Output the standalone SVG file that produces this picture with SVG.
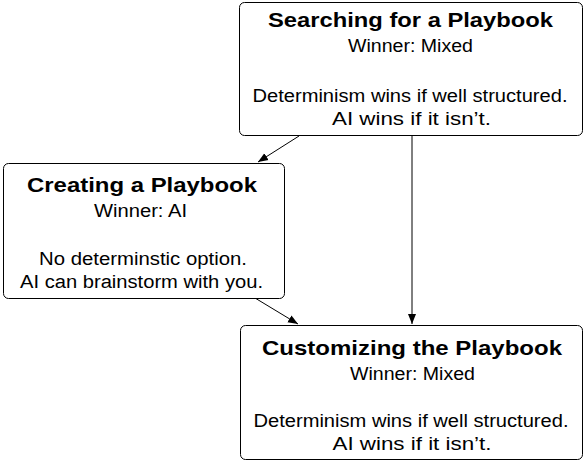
<svg xmlns="http://www.w3.org/2000/svg" width="585" height="462" viewBox="0 0 585 462">
<defs>
<marker id="ah" viewBox="0 0 10 10" refX="10" refY="5" markerWidth="10" markerHeight="10" markerUnits="userSpaceOnUse" orient="auto"><path d="M0,1 L10,5 L0,9 z" fill="#000"/></marker>
<style>
.box{fill:#fff;stroke:#000;stroke-width:1}
.t{font-family:"Liberation Sans",Arial,sans-serif;font-size:21px;font-weight:bold;text-anchor:middle;fill:#000}
.s{font-family:"Liberation Sans",Arial,sans-serif;font-size:18px;text-anchor:middle;fill:#000}
.c{stroke:#000;stroke-width:1;fill:none;marker-end:url(#ah)}
</style>
</defs>
<rect width="585" height="462" fill="#fff"/>
<g id="connectors">
<line class="c" x1="299" y1="136" x2="258" y2="162"/>
<line class="c" x1="412" y1="136" x2="412" y2="324"/>
<line class="c" x1="255" y1="298" x2="298" y2="324"/>
</g>
<g id="searching">
<rect class="box" x="239.5" y="2.5" width="343" height="133" rx="5"/>
<text class="t" x="410.5" y="27" textLength="285" lengthAdjust="spacingAndGlyphs">Searching for a Playbook</text>
<text class="s" x="410.5" y="52" textLength="125" lengthAdjust="spacingAndGlyphs">Winner: Mixed</text>
<text class="s" x="410" y="102" textLength="315" lengthAdjust="spacingAndGlyphs">Determinism wins if well structured.</text>
<text class="s" x="411.5" y="125" textLength="159" lengthAdjust="spacingAndGlyphs">AI wins if it isn’t.</text>
</g>
<g id="creating">
<rect class="box" x="3.5" y="163.5" width="281" height="135" rx="5"/>
<text class="t" x="142" y="192" textLength="230" lengthAdjust="spacingAndGlyphs">Creating a Playbook</text>
<text class="s" x="140.5" y="217" textLength="93" lengthAdjust="spacingAndGlyphs">Winner: AI</text>
<text class="s" x="143" y="265" textLength="208" lengthAdjust="spacingAndGlyphs">No determinstic option.</text>
<text class="s" x="141.5" y="288" textLength="243" lengthAdjust="spacingAndGlyphs">AI can brainstorm with you.</text>
</g>
<g id="customizing">
<rect class="box" x="240.5" y="325.5" width="342" height="134" rx="5"/>
<text class="t" x="412" y="355" textLength="300" lengthAdjust="spacingAndGlyphs">Customizing the Playbook</text>
<text class="s" x="412.5" y="380" textLength="125" lengthAdjust="spacingAndGlyphs">Winner: Mixed</text>
<text class="s" x="411" y="427" textLength="315" lengthAdjust="spacingAndGlyphs">Determinism wins if well structured.</text>
<text class="s" x="412" y="450" textLength="159" lengthAdjust="spacingAndGlyphs">AI wins if it isn’t.</text>
</g>
</svg>
